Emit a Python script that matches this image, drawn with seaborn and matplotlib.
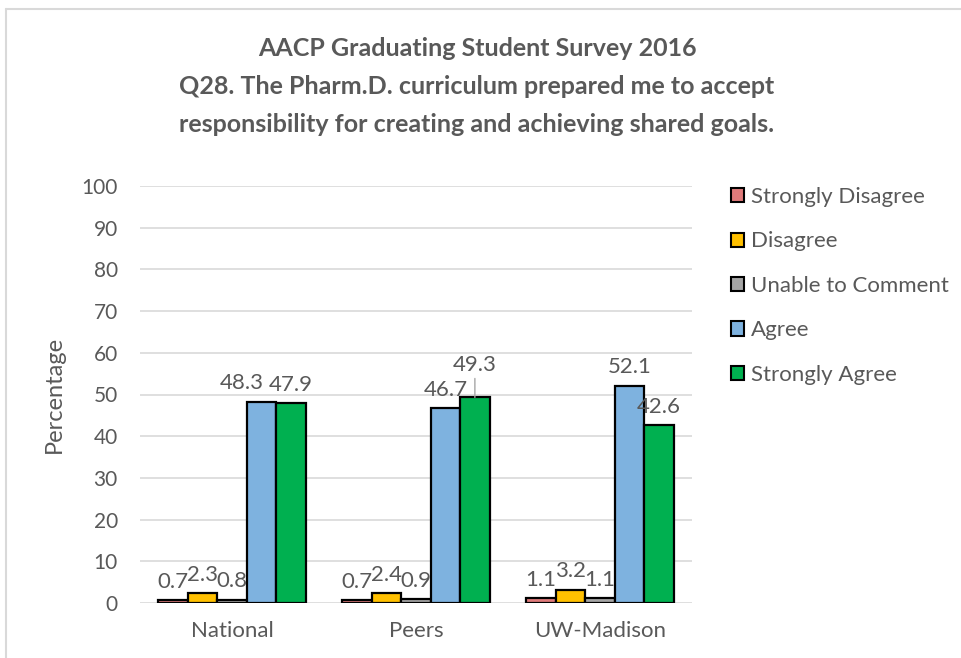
import pandas as pd
import numpy as np
import seaborn as sns
import matplotlib.pyplot as plt
from matplotlib.lines import Line2D

groups = ['National', 'Peers', 'UW-Madison']
responses = ['Strongly Disagree', 'Disagree', 'Unable to Comment', 'Agree', 'Strongly Agree']
national = [0.7, 2.3, 0.8, 48.3, 47.9]
peers = [0.7, 2.4, 0.9, 46.7, 49.3]
uw_madison = [1.1, 3.2, 1.1, 52.1, 42.6]
colors = ['#E07B7B', '#FFC000', '#A5A5A5', '#7EB2DF', '#00B050']

rows = []
for g, vals in zip(groups, [national, peers, uw_madison]):
    for r, v in zip(responses, vals):
        rows.append({'group': g, 'response': r, 'pct': v})
df = pd.DataFrame(rows)

sns.set_style('white')
plt.rcParams['font.family'] = ['Lato', 'DejaVu Sans']
txt = '#595959'

fig = plt.figure(figsize=(9.61, 6.58), dpi=100)
ax = fig.add_axes([140 / 961, 55 / 658, 552 / 961, 417 / 658])

sns.barplot(data=df, x='group', y='pct', hue='response', order=groups,
            hue_order=responses, palette=colors, saturation=1, width=0.8,
            edgecolor='black', linewidth=1.6, ax=ax, legend=False)

ax.set_ylim(0, 100)
ax.set_yticks(range(0, 101, 10))
ax.yaxis.grid(True, color='#D9D9D9', linewidth=1.2)
ax.set_axisbelow(True)
for s in ax.spines.values():
    s.set_visible(False)
ax.tick_params(axis='y', length=0, labelsize=15, colors=txt, pad=16)
ax.tick_params(axis='x', length=0, labelsize=16, colors=txt, pad=13)
ax.set_xlabel('')
ax.set_ylabel('Percentage', fontsize=17, color=txt, labelpad=12)

# data labels; a couple are nudged like Excel did to avoid collisions
shift = {(3, 0): (-14, 0)}
leader = {(4, 1): (0, 16)}
for ci, cont in enumerate(ax.containers):
    for gi, bar in enumerate(cont):
        v = bar.get_height()
        xy = (bar.get_x() + bar.get_width() / 2, v)
        if (ci, gi) in leader:
            ax.annotate(f'{v:.1f}', xy=xy, xytext=leader[(ci, gi)], textcoords='offset points',
                        ha='center', va='bottom', fontsize=16, color=txt,
                        arrowprops=dict(arrowstyle='-', color='#A6A6A6', lw=1,
                                        shrinkA=0, shrinkB=0))
        else:
            dx, dy = shift.get((ci, gi), (0, 0))
            ax.annotate(f'{v:.1f}', xy=xy, xytext=(dx, 6 + dy), textcoords='offset points',
                        ha='center', va='bottom', fontsize=16, color=txt)

handles = [plt.Rectangle((0, 0), 1, 1, facecolor=c, edgecolor='black', linewidth=1.5)
           for c in colors]
fig.legend(handles, responses, loc='upper left', bbox_to_anchor=(731 / 961, 1 - 187 / 658),
           frameon=False, fontsize=16, labelcolor=txt, handlelength=0.6, handleheight=0.6,
           handletextpad=0.3, labelspacing=1.1, borderaxespad=0, borderpad=0)

fig.suptitle('AACP Graduating Student Survey 2016\n'
             'Q28. The Pharm.D. curriculum prepared me to accept\n'
             'responsibility for creating and achieving shared goals.',
             x=477 / 961, y=1 - 37 / 658, va='top', fontsize=18, fontweight='bold',
             color=txt, linespacing=1.8)

# chart frame (left and top edges visible in the crop)
fig.add_artist(Line2D([6 / 961, 6 / 961], [0, 1 - 9 / 658], transform=fig.transFigure,
                      color='#D9D9D9', linewidth=1.5))
fig.add_artist(Line2D([6 / 961, 1], [1 - 9 / 658, 1 - 9 / 658], transform=fig.transFigure,
                      color='#D9D9D9', linewidth=1.5))

fig.savefig('out.png', dpi=100)
